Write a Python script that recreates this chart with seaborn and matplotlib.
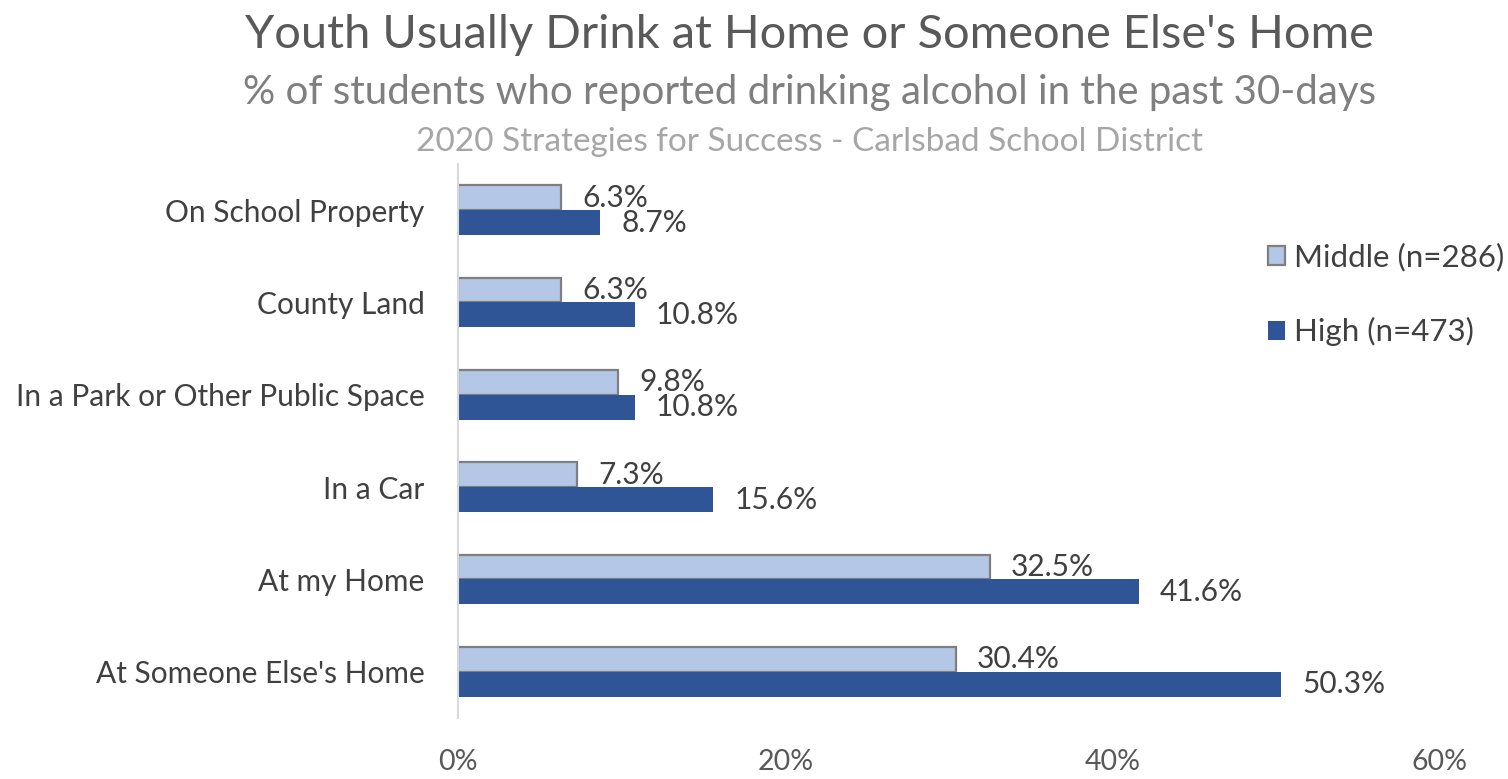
import matplotlib
matplotlib.use("Agg")
import matplotlib.pyplot as plt
from matplotlib.patches import Patch
import pandas as pd
import seaborn as sns

locations = ["On School Property", "County Land", "In a Park or Other Public Space",
             "In a Car", "At my Home", "At Someone Else's Home"]
middle = [6.3, 6.3, 9.8, 7.3, 32.5, 30.4]
high = [8.7, 10.8, 10.8, 15.6, 41.6, 50.3]
groups = ["Middle (n=286)", "High (n=473)"]
x_ticks = [0, 20, 40, 60]

colors = ["#B4C7E7", "#2F5597"]

df = pd.DataFrame({
    "location": locations * 2,
    "pct": middle + high,
    "group": [groups[0]] * len(locations) + [groups[1]] * len(locations),
})

sns.set_style("white")
plt.rcParams["font.family"] = ["Lato", "DejaVu Sans"]

fig = plt.figure(figsize=(15.08, 7.79), dpi=100)
ax = fig.add_axes([0.3037, 0.0783, 0.9549 - 0.3037, 0.7895 - 0.0783])

sns.barplot(data=df, x="pct", y="location", hue="group", order=locations,
            hue_order=groups, palette=colors, width=0.54, saturation=1,
            errorbar=None, orient="h", ax=ax)

for bar in ax.containers[0]:
    bar.set_edgecolor("#7F7F7F")
    bar.set_linewidth(1.6)
for bar in ax.containers[1]:
    bar.set_edgecolor("none")

for cont in ax.containers:
    ax.bar_label(cont, fmt="{:.1f}%", padding=15, fontsize=21.5, color="#404040")

ax.set_xlim(0, 60)
ax.set_xticks(x_ticks)
ax.set_xticklabels([f"{t}%" for t in x_ticks])
ax.set_ylim(5.5, -0.5)
ax.set_xlabel("")
ax.set_ylabel("")
ax.tick_params(axis="x", length=0, pad=22, labelsize=20.5, labelcolor="#595959")
ax.tick_params(axis="y", length=0, pad=24, labelsize=21.5, labelcolor="#404040")
for side in ["top", "right", "bottom"]:
    ax.spines[side].set_visible(False)
ax.spines["left"].set_color("#D9D9D9")
ax.spines["left"].set_linewidth(1.5)

ax.get_legend().remove()
handles = [Patch(facecolor=colors[0], edgecolor="#7F7F7F", linewidth=1.6),
           Patch(facecolor=colors[1], edgecolor="none")]
fig.legend(handles, groups, loc="upper left", bbox_to_anchor=(0.822, 0.724),
           frameon=False, fontsize=22.5, labelcolor="#404040", handlelength=0.55,
           handleheight=0.55, handletextpad=0.3, labelspacing=1.45)

fig.text(0.537, 0.955, "Youth Usually Drink at Home or Someone Else's Home",
         ha="center", va="center", fontsize=33.8, color="#595959")
fig.text(0.537, 0.881, "% of students who reported drinking alcohol in the past 30-days",
         ha="center", va="center", fontsize=29, color="#7F7F7F")
fig.text(0.537, 0.818, "2020 Strategies for Success - Carlsbad School District",
         ha="center", va="center", fontsize=24, color="#A6A6A6")

fig.savefig("out.png", dpi=100)
